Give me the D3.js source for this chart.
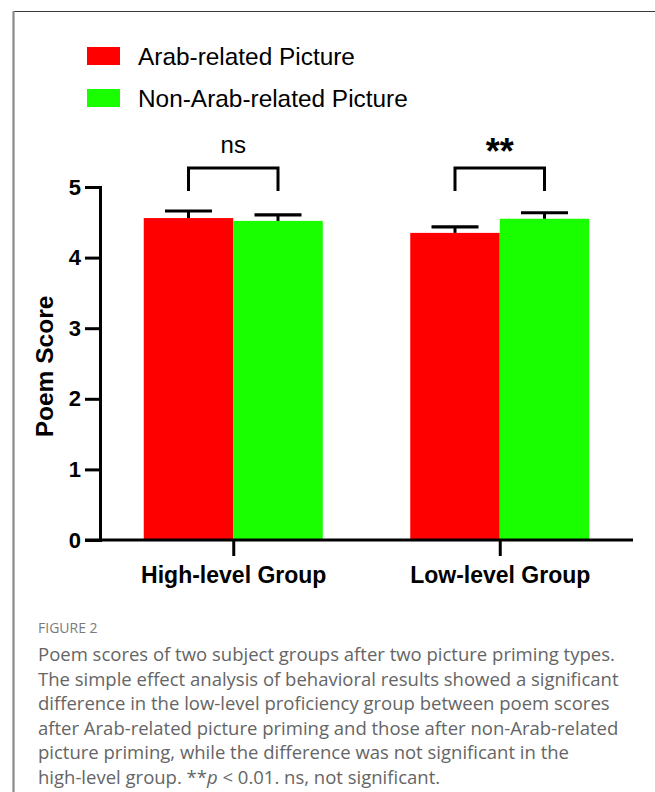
<!DOCTYPE html>
<html>
<head>
<meta charset="utf-8">
<script src="https://cdn.jsdelivr.net/npm/d3@7"></script>
<style>
  html, body { margin: 0; padding: 0; background: #fff; }
  svg { display: block; }
</style>
</head>
<body>
<svg id="chart" width="655" height="792"></svg>
<script>
// Poem scores by proficiency group and picture priming type
const groups = ["High-level Group", "Low-level Group"];
const series = ["Arab-related Picture", "Non-Arab-related Picture"];
const arabMeans = [4.56, 4.35];
const nonArabMeans = [4.52, 4.55];
const arabErr = [0.10, 0.085];
const nonArabErr = [0.085, 0.085];
const sigLabels = ["ns", "**"];
const yTicks = [0, 1, 2, 3, 4, 5];
const colors = ["#ff0000", "#1aff00"];

const captionTitle = "FIGURE 2";
const captionLines = [
  "Poem scores of two subject groups after two picture priming types.",
  "The simple effect analysis of behavioral results showed a significant",
  "difference in the low-level proficiency group between poem scores",
  "after Arab-related picture priming and those after non-Arab-related",
  "picture priming, while the difference was not significant in the",
  "high-level group. **p < 0.01. ns, not significant."
];

const values = groups.map((g, i) => [
  { group: g, series: series[0], mean: arabMeans[i], err: arabErr[i] },
  { group: g, series: series[1], mean: nonArabMeans[i], err: nonArabErr[i] }
]);

const svg = d3.select("#chart");
const chartFont = "'Liberation Sans', Arial, sans-serif";

// figure frame (left and top rules)
svg.append("line").attr("x1", 13).attr("x2", 655).attr("y1", 11.5).attr("y2", 11.5)
  .attr("stroke", "#3a3a3a").attr("stroke-width", 1.2);
svg.append("line").attr("x1", 13.5).attr("x2", 13.5).attr("y1", 11).attr("y2", 792)
  .attr("stroke", "#8a8a8a").attr("stroke-width", 2.2);

// scales
const axisX = 100, axisEnd = 633, tickLen = 15;
const y = d3.scaleLinear().domain([0, 5]).range([540, 187]);
const x = d3.scalePoint().domain(groups).range([axisX, axisEnd]).padding(0.5);
const xs = d3.scaleBand().domain(series).range([-89.5, 89.5]);

// bars
const gBars = svg.append("g");
values.forEach(row => {
  row.forEach((d, j) => {
    gBars.append("rect")
      .attr("x", x(d.group) + xs(d.series))
      .attr("y", y(d.mean))
      .attr("width", xs.bandwidth())
      .attr("height", y(0) - y(d.mean))
      .attr("fill", colors[j]);
  });
});

// error bars (upper half)
const capHalf = 23.5;
values.forEach(row => {
  row.forEach(d => {
    const cx = x(d.group) + xs(d.series) + xs.bandwidth() / 2;
    gBars.append("line").attr("x1", cx).attr("x2", cx)
      .attr("y1", y(d.mean)).attr("y2", y(d.mean + d.err))
      .attr("stroke", "#000").attr("stroke-width", 3);
    gBars.append("line").attr("x1", cx - capHalf).attr("x2", cx + capHalf)
      .attr("y1", y(d.mean + d.err)).attr("y2", y(d.mean + d.err))
      .attr("stroke", "#000").attr("stroke-width", 3.2);
  });
});

// y axis
const yAxis = svg.append("g").attr("transform", `translate(${axisX},0)`)
  .call(d3.axisLeft(y).tickValues(yTicks).tickFormat(d3.format("d"))
    .tickSize(tickLen).tickSizeOuter(0).tickPadding(4));
yAxis.select(".domain").attr("stroke-width", 3).attr("stroke-linecap", "square");
yAxis.selectAll(".tick line").attr("stroke-width", 3);
yAxis.selectAll(".tick text").attr("font-family", chartFont)
  .attr("font-size", 22).attr("font-weight", "bold").attr("fill", "#000");

// x axis
const xAxis = svg.append("g").attr("transform", `translate(0,${y(0)})`)
  .call(d3.axisBottom(x).tickSize(16).tickSizeOuter(0).tickPadding(11));
xAxis.select(".domain").remove();
xAxis.append("line").attr("x1", axisX - tickLen).attr("x2", axisEnd)
  .attr("y1", 0).attr("y2", 0).attr("stroke", "#000").attr("stroke-width", 3);
xAxis.selectAll(".tick line").attr("stroke-width", 3);
xAxis.selectAll(".tick text").attr("font-family", chartFont)
  .attr("font-size", 23).attr("font-weight", "bold").attr("fill", "#000");

// y axis title
svg.append("text")
  .attr("transform", `translate(53,${(y(0) + y(5)) / 2 + 3}) rotate(-90)`)
  .attr("text-anchor", "middle")
  .attr("font-family", chartFont).attr("font-size", 24.5).attr("font-weight", "bold")
  .text("Poem Score");

// significance brackets
const brTop = 168, brBottom = 191;
groups.forEach((g, i) => {
  const x1 = x(g) + xs(series[0]) + xs.bandwidth() / 2;
  const x2 = x(g) + xs(series[1]) + xs.bandwidth() / 2;
  svg.append("path")
    .attr("d", `M${x1},${brBottom}V${brTop}H${x2}V${brBottom}`)
    .attr("fill", "none").attr("stroke", "#000").attr("stroke-width", 3);
  const isStar = sigLabels[i].startsWith("*");
  svg.append("text")
    .attr("x", x(g)).attr("y", isStar ? 164 : 153)
    .attr("text-anchor", "middle")
    .attr("font-family", chartFont)
    .attr("font-size", isStar ? 36 : 24)
    .attr("font-weight", isStar ? "bold" : "normal")
    .text(sigLabels[i]);
});

// legend
const legend = svg.append("g");
series.forEach((s, i) => {
  const ly = 47 + i * 42;
  legend.append("rect").attr("x", 87).attr("y", ly).attr("width", 33).attr("height", 18)
    .attr("fill", colors[i]);
  legend.append("text").attr("x", 138).attr("y", ly + 18)
    .attr("font-family", chartFont).attr("font-size", 24.4).text(s);
});

// caption
const cap = svg.append("g").attr("font-family", "'Open Sans', sans-serif");
cap.append("text").attr("x", 38).attr("y", 633)
  .attr("font-size", 14).attr("fill", "#7a7a7a").text(captionTitle);
const capText = cap.append("text").attr("font-size", 18.5).attr("fill", "#656565");
captionLines.forEach((line, i) => {
  const t = capText.append("tspan").attr("x", 38).attr("y", 661 + i * 24.5);
  if (line.includes("**p")) {
    const [a, b] = line.split("**p");
    t.append("tspan").text(a + "**");
    t.append("tspan").attr("font-style", "italic").text("p");
    t.append("tspan").text(b);
  } else {
    t.text(line);
  }
});
</script>
</body>
</html>
